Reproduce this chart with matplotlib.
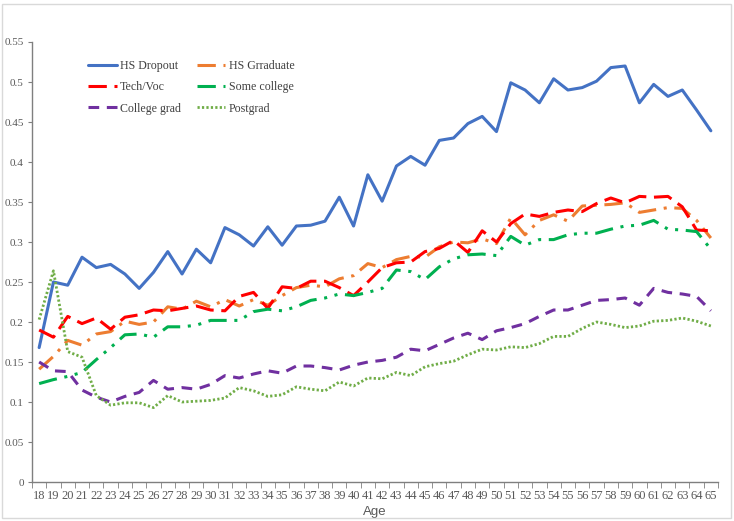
import matplotlib
matplotlib.use("Agg")
import matplotlib.pyplot as plt
from matplotlib.patches import Rectangle
import numpy as np

ages = list(range(18, 66))

hs_dropout = [0.168, 0.250, 0.246, 0.281, 0.268, 0.272, 0.260, 0.242, 0.262, 0.288,
              0.260, 0.291, 0.274, 0.318, 0.309, 0.295, 0.319, 0.296, 0.320, 0.321,
              0.326, 0.356, 0.320, 0.384, 0.351, 0.395, 0.407, 0.396, 0.427, 0.430,
              0.448, 0.457, 0.438, 0.499, 0.490, 0.474, 0.504, 0.490, 0.493, 0.501,
              0.518, 0.520, 0.474, 0.497, 0.482, 0.490, 0.465, 0.439]

hs_graduate = [0.141, 0.157, 0.177, 0.171, 0.185, 0.188, 0.201, 0.197, 0.200, 0.219,
               0.216, 0.226, 0.219, 0.228, 0.220, 0.228, 0.221, 0.233, 0.243, 0.246,
               0.244, 0.254, 0.258, 0.273, 0.268, 0.278, 0.282, 0.281, 0.294, 0.300,
               0.299, 0.304, 0.298, 0.330, 0.309, 0.327, 0.334, 0.326, 0.345, 0.346,
               0.347, 0.349, 0.337, 0.340, 0.343, 0.342, 0.327, 0.305]

tech_voc = [0.190, 0.181, 0.207, 0.198, 0.205, 0.191, 0.206, 0.209, 0.215, 0.214,
            0.217, 0.220, 0.215, 0.214, 0.232, 0.237, 0.217, 0.244, 0.242, 0.251,
            0.251, 0.243, 0.233, 0.250, 0.268, 0.274, 0.275, 0.288, 0.292, 0.302,
            0.287, 0.314, 0.300, 0.323, 0.335, 0.332, 0.337, 0.340, 0.338, 0.348,
            0.355, 0.349, 0.357, 0.356, 0.357, 0.344, 0.315, 0.314]

some_college = [0.123, 0.128, 0.132, 0.137, 0.153, 0.168, 0.184, 0.185, 0.181, 0.194,
                0.194, 0.196, 0.202, 0.202, 0.202, 0.213, 0.216, 0.214, 0.219, 0.227,
                0.230, 0.235, 0.233, 0.237, 0.242, 0.265, 0.263, 0.253, 0.269, 0.279,
                0.284, 0.285, 0.283, 0.307, 0.296, 0.303, 0.303, 0.309, 0.311, 0.311,
                0.316, 0.320, 0.321, 0.327, 0.316, 0.315, 0.313, 0.291]

college_grad = [0.150, 0.139, 0.138, 0.115, 0.106, 0.100, 0.107, 0.112, 0.127, 0.116,
                0.118, 0.116, 0.122, 0.133, 0.130, 0.135, 0.139, 0.136, 0.145, 0.145,
                0.143, 0.140, 0.146, 0.150, 0.152, 0.156, 0.166, 0.164, 0.172, 0.180,
                0.186, 0.178, 0.189, 0.193, 0.198, 0.207, 0.215, 0.215, 0.221, 0.227,
                0.228, 0.230, 0.221, 0.242, 0.237, 0.235, 0.232, 0.214]

postgrad = [0.203, 0.264, 0.163, 0.156, 0.108, 0.096, 0.099, 0.099, 0.093, 0.108,
            0.100, 0.101, 0.102, 0.105, 0.118, 0.114, 0.107, 0.109, 0.119, 0.116,
            0.114, 0.125, 0.120, 0.130, 0.129, 0.137, 0.133, 0.144, 0.148, 0.151,
            0.159, 0.166, 0.165, 0.169, 0.168, 0.173, 0.182, 0.182, 0.192, 0.200,
            0.197, 0.193, 0.195, 0.201, 0.202, 0.205, 0.201, 0.195]

series = [
    ("HS Dropout", hs_dropout, "#4472C4", "-"),
    ("HS Grraduate", hs_graduate, "#ED7D31", (0, (6, 2.5, 1, 2.5))),
    ("Tech/Voc", tech_voc, "#FF0000", (0, (6, 2.5))),
    ("Some college", some_college, "#00B050", (0, (6, 2.5, 1, 2.5, 1, 2.5))),
    ("College grad", college_grad, "#7030A0", (0, (3.5, 2.5))),
    ("Postgrad", postgrad, "#70AD47", (0, (0.8, 0.8))),
]

fig = plt.figure(figsize=(7.34, 5.21), dpi=100)
ax = fig.add_axes([32/734, 1-482/521, (718-32)/734, (482-42)/521])

handles = {}
for name, vals, col, ls in series:
    lw = 2.2 if name != "Postgrad" else 2.0
    h, = ax.plot(ages, vals, color=col, linestyle=ls, linewidth=lw, label=name,
                 dash_capstyle="butt", solid_capstyle="round", solid_joinstyle="round")
    handles[name] = h

ax.set_xlim(17.5, 65.5)
ax.set_ylim(0, 0.55)

serif = "Liberation Serif"
ax.set_xticks(ages)
ax.set_xticklabels([str(a) for a in ages], fontfamily=serif, fontsize=9, color="#595959")
ax.set_xticks(np.arange(17.5, 66, 1.0), minor=True)
ax.tick_params(axis="x", which="major", length=0, pad=6)
ax.tick_params(axis="x", which="minor", length=4, color="#7F7F7F", direction="out")

yt = [0, 0.05, 0.1, 0.15, 0.2, 0.25, 0.3, 0.35, 0.4, 0.45, 0.5, 0.55]
ytl = ["0", "0.05", "0.1", "0.15", "0.2", "0.25", "0.3", "0.35", "0.4", "0.45", "0.5", "0.55"]
ax.set_yticks(yt)
ax.set_yticklabels(ytl, fontfamily=serif, fontsize=8, color="#595959")
ax.tick_params(axis="y", length=3, color="#7F7F7F", direction="out", pad=3)

for s in ["top", "right"]:
    ax.spines[s].set_visible(False)
for s in ["left", "bottom"]:
    ax.spines[s].set_color("#7F7F7F")
    ax.spines[s].set_linewidth(1.0)

ax.set_xlabel("Age", fontfamily="Liberation Sans", fontsize=9.5, color="#595959", labelpad=3)

order = ["HS Dropout", "Tech/Voc", "College grad", "HS Grraduate", "Some college", "Postgrad"]
leg = ax.legend([handles[n] for n in order], order, ncol=2, loc="upper left",
                bbox_to_anchor=((88-32)/686, (482-60)/440), frameon=False,
                borderaxespad=0, borderpad=0,
                prop={"family": serif, "size": 8.6}, handlelength=2.4,
                columnspacing=1.3, labelspacing=0.78, handletextpad=0.3)
for t in leg.get_texts():
    t.set_color("#404040")

fig.patches.append(Rectangle((2/734, 3/521), 729/734, 514/521, transform=fig.transFigure,
                             fill=False, edgecolor="#D9D9D9", linewidth=1.0))

fig.savefig("out.png", dpi=100)
